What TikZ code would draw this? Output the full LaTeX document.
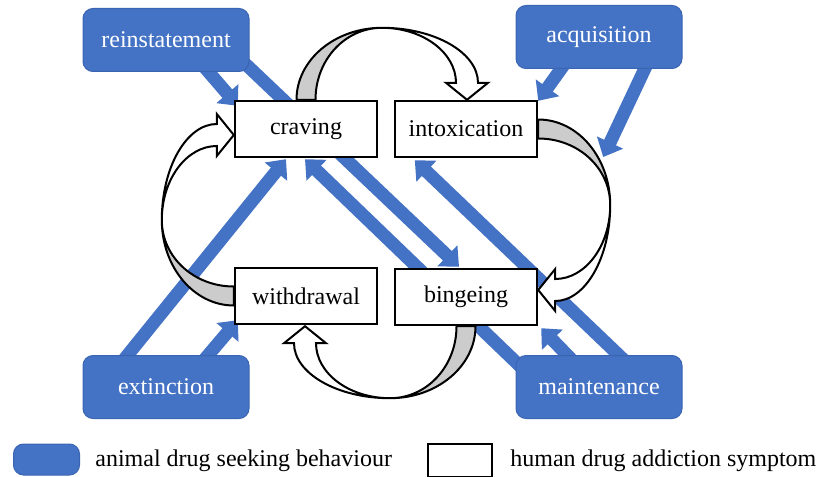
\documentclass[tikz,border=0pt]{standalone}
\usepackage{fontspec}
\setmainfont{Liberation Serif}
\usetikzlibrary{arrows.meta}
\usetikzlibrary{backgrounds}

\definecolor{seekblue}{HTML}{4472C4}
\definecolor{seekedge}{HTML}{3B65B2}

\begin{document}
\begin{tikzpicture}[x=0.5pt, y=-0.5pt,
    label font/.style={font=\fontsize{12}{14}\selectfont},
    symptom/.style={draw, line width=1.2pt, fill=white, minimum width=71pt,
      minimum height=28pt, inner sep=0pt, label font},
    behaviour/.style={draw=seekedge, line width=0.5pt, fill=seekblue,
      rounded corners=5pt, minimum width=83pt, minimum height=31.5pt,
      inner sep=0pt, text=white, label font},
    seek/.style={seekblue, line width=6.5pt,
      -{Triangle[width=14pt,length=8pt]}},
    turn/.pic={
      \filldraw[fill=gray!40, line width=1pt, line join=round]
        (-9.5,0) .. controls (-9.5,-40) and (29,-72) .. (76,-72)
        .. controls (39,-72) and (9.5,-40) .. (9.5,0) -- cycle;
      \filldraw[fill=white, line width=1pt, line join=miter]
        (76,-72) .. controls (129,-72) and (172,-47) .. (172,-17)
        -- (182,-17) -- (161,0) -- (140,-17) -- (150,-17)
        .. controls (150,-47) and (117,-72) .. (76,-72) -- cycle;
    }
  ]
  \useasboundingbox (0,0) rectangle (817,476);

  % symptoms
  \node[symptom] (craving) at (306,129) {craving};
  \node[symptom] (intox) at (466,129) {intoxication};
  \node[symptom] (withdrawal) at (306,296) {withdrawal};
  \node[symptom] (binge) at (466,297) {bingeing};

  % animal models
  \node[behaviour] (reinst) at (166,40) {reinstatement};
  \node[behaviour] (acq) at (599,37) {acquisition};
  \node[behaviour] (ext) at (166,387) {extinction};
  \node[behaviour] (maint) at (599,387) {maintenance};

  \coordinate (lunehit) at ([shift={(65,28)}]intox.east);

  \begin{scope}[on background layer]
    \draw[seek] ([shift={(34,22)}]reinst.center) -- ([shift={(4,6)}]craving.north west);
    \draw[seek] ([shift={(70,15)}]reinst.center) -- ([shift={(-7,-1)}]binge.north);
    \draw[seek] ([shift={(-33,25)}]acq.center) -- ([shift={(0,1)}]intox.north east);
    \draw[seek] ([shift={(49,25)}]acq.center) -- (lunehit);
    \draw[seek] ([shift={(-44,-25)}]ext.center) -- ([shift={(-20,1)}]craving.south);
    \draw[seek] ([shift={(38,-27)}]ext.center) -- ([shift={(4,-5)}]withdrawal.south west);
    \draw[seek] ([shift={(-77,-19)}]maint.center) -- ([shift={(-1,1)}]craving.south);
    \draw[seek] ([shift={(-27,-27)}]maint.center) -- ([shift={(3,2)}]binge.south east);
    \draw[seek] ([shift={(27,-25)}]maint.center) -- ([shift={(21,2)}]intox.south west);
  \end{scope}

  % cycle of symptoms
  \pic at (craving.north) {turn};
  \pic[rotate=-90] at (intox.east) {turn};
  \pic[rotate=180] at (binge.south) {turn};
  \pic[rotate=90] at (withdrawal.west) {turn};

  % legend
  \node[behaviour, minimum width=33pt, minimum height=15.5pt] (keyblue) at (46.5,459.5) {};
  \node[label font, anchor=west, inner sep=0pt] (keybluetext) at (95,461) {animal drug seeking behaviour};
  \node[symptom, line width=1pt, minimum width=32pt, minimum height=16.5pt] (keywhite) at (460,460) {};
  \node[label font, anchor=west, inner sep=0pt] (keywhitetext) at (510,461) {human drug addiction symptom};
\end{tikzpicture}
\end{document}
